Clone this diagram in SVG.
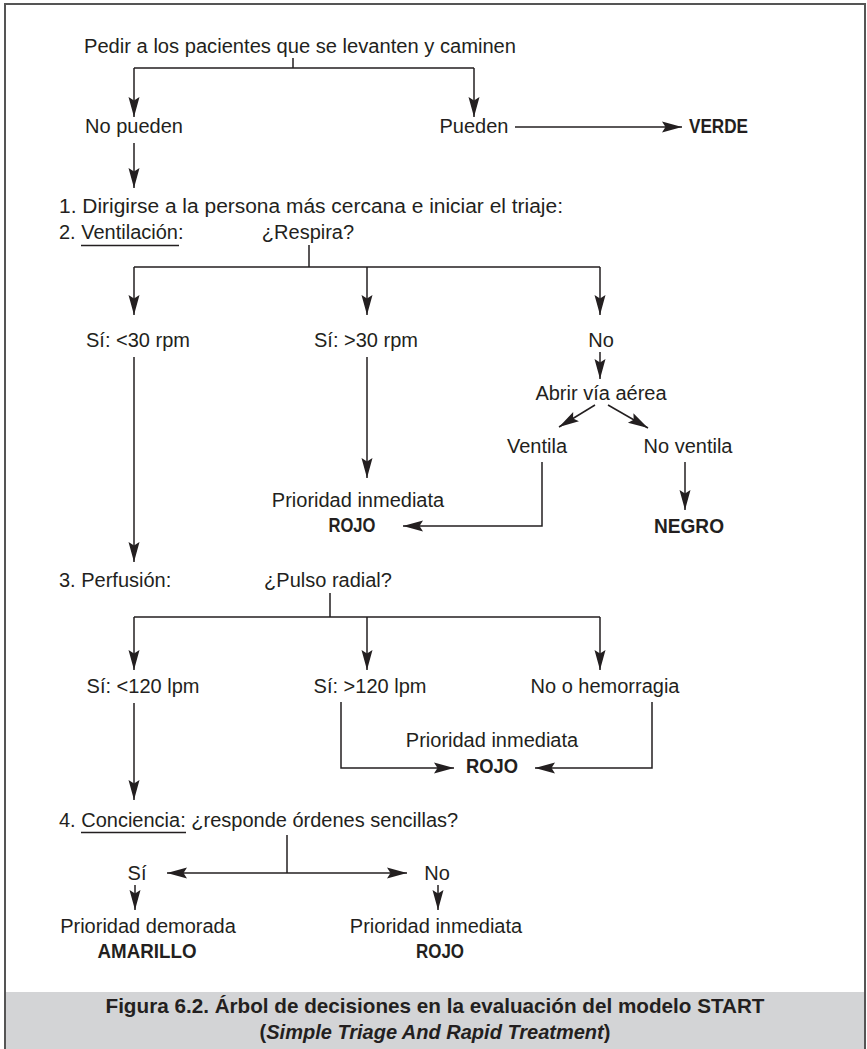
<svg xmlns="http://www.w3.org/2000/svg" width="867" height="1049" viewBox="0 0 867 1049">
<style>
text{font-family:"Liberation Sans",Arial,sans-serif;font-size:20px;fill:#231f20}
.c{text-anchor:middle}
.b{font-weight:bold}
.cap{font-weight:bold;font-size:21px}
.ln{fill:none;stroke:#231f20;stroke-width:1.5}
.ar{fill:none;stroke:#231f20;stroke-width:1.5;marker-end:url(#ah)}
</style>
<defs>
<marker id="ah" viewBox="-21 -6 22 12" refX="0" refY="0" markerWidth="22" markerHeight="12" orient="auto" markerUnits="userSpaceOnUse">
<path d="M0,0 L-20,-5.5 L-16.5,0 L-20,5.5 Z" fill="#231f20"/>
</marker>
</defs>
<rect x="0" y="0" width="867" height="1049" fill="#fff"/>
<rect x="5" y="992" width="860" height="60" fill="#d3d4d6"/>
<path d="M5,1049 V4 H865 V1049" fill="none" stroke="#555" stroke-width="2"/>

<g id="connectors">
<path class="ln" d="M293,58 V68 M134,68 H474"/>
<path class="ar" d="M134,68 V117"/>
<path class="ar" d="M474,68 V117"/>
<path class="ar" d="M134,143 V188"/>
<path class="ar" d="M515,127 H682"/>
<path class="ln" d="M309,245 V267 M134,267 H600"/>
<path class="ar" d="M134,267 V315"/>
<path class="ar" d="M367,267 V315"/>
<path class="ar" d="M600,267 V315"/>
<path class="ar" d="M134,357 V562"/>
<path class="ar" d="M367,357 V478"/>
<path class="ar" d="M600,352 V379"/>
<path class="ar" d="M595,405 L559,427"/>
<path class="ar" d="M608,405 L648,428"/>
<path class="ar" d="M542,462 V526 H403"/>
<path class="ar" d="M685,462 V510"/>
<path class="ln" d="M330,593 V617 M134,617 H600"/>
<path class="ar" d="M134,617 V670"/>
<path class="ar" d="M367,617 V670"/>
<path class="ar" d="M600,617 V670"/>
<path class="ar" d="M134,703 V800"/>
<path class="ar" d="M341,702 V768 H454"/>
<path class="ar" d="M652,702 V768 H535"/>
<path class="ln" d="M287,835 V873"/>
<path class="ar" d="M287,873 H167"/>
<path class="ar" d="M287,873 H407"/>
<path class="ar" d="M135,885 V910"/>
<path class="ar" d="M438,885 V910"/>
</g>

<g id="n-pedir"><text x="300" y="53" class="c" textLength="432" lengthAdjust="spacingAndGlyphs">Pedir a los pacientes que se levanten y caminen</text></g>
<g id="n-nopueden"><text x="134" y="133" class="c">No pueden</text></g>
<g id="n-pueden"><text x="474" y="133" class="c">Pueden</text></g>
<g id="n-verde"><text x="689" y="133" class="b" textLength="59" lengthAdjust="spacingAndGlyphs">VERDE</text></g>
<g id="n-step1"><text x="59" y="213" textLength="504" lengthAdjust="spacingAndGlyphs">1. Dirigirse a la persona más cercana e iniciar el triaje:</text></g>
<g id="n-step2"><text x="59" y="239">2. Ventilación:</text><line class="ln" x1="81" y1="245.5" x2="179" y2="245.5"/></g>
<g id="n-respira"><text x="308" y="239" class="c">¿Respira?</text></g>
<g id="n-si30a"><text x="138" y="347" class="c">Sí: &lt;30 rpm</text></g>
<g id="n-si30b"><text x="366" y="347" class="c">Sí: &gt;30 rpm</text></g>
<g id="n-no1"><text x="601" y="347" class="c">No</text></g>
<g id="n-abrir"><text x="601" y="400" class="c">Abrir vía aérea</text></g>
<g id="n-ventila"><text x="537" y="453" class="c">Ventila</text></g>
<g id="n-noventila"><text x="688" y="453" class="c">No ventila</text></g>
<g id="n-negro"><text x="689" y="533" class="c b" textLength="70" lengthAdjust="spacingAndGlyphs">NEGRO</text></g>
<g id="n-rojo1"><text x="358" y="507" class="c">Prioridad inmediata</text><text x="352" y="532" class="c b" textLength="47" lengthAdjust="spacingAndGlyphs">ROJO</text></g>
<g id="n-step3"><text x="59" y="587">3. Perfusión:</text></g>
<g id="n-pulso"><text x="328" y="587" class="c">¿Pulso radial?</text></g>
<g id="n-si120a"><text x="143" y="693" class="c">Sí: &lt;120 lpm</text></g>
<g id="n-si120b"><text x="370" y="693" class="c">Sí: &gt;120 lpm</text></g>
<g id="n-hemorragia"><text x="605" y="693" class="c">No o hemorragia</text></g>
<g id="n-rojo2"><text x="492" y="747" class="c">Prioridad inmediata</text><text x="492" y="773" class="c b" textLength="52" lengthAdjust="spacingAndGlyphs">ROJO</text></g>
<g id="n-step4"><text x="59" y="827">4. Conciencia: ¿responde órdenes sencillas?</text><line class="ln" x1="81" y1="832.5" x2="186" y2="832.5"/></g>
<g id="n-si"><text x="137" y="880" class="c">Sí</text></g>
<g id="n-no2"><text x="437" y="880" class="c">No</text></g>
<g id="n-amarillo"><text x="148" y="933" class="c">Prioridad demorada</text><text x="147" y="958" class="c b" textLength="99" lengthAdjust="spacingAndGlyphs">AMARILLO</text></g>
<g id="n-rojo3"><text x="436" y="933" class="c">Prioridad inmediata</text><text x="440" y="958" class="c b" textLength="48" lengthAdjust="spacingAndGlyphs">ROJO</text></g>

<g id="caption">
<text x="435" y="1013" class="cap c" textLength="659" lengthAdjust="spacingAndGlyphs">Figura 6.2. Árbol de decisiones en la evaluación del modelo START</text>
<text x="435" y="1039" class="c b">(<tspan font-style="italic">Simple Triage And Rapid Treatment</tspan>)</text>
</g>
</svg>
